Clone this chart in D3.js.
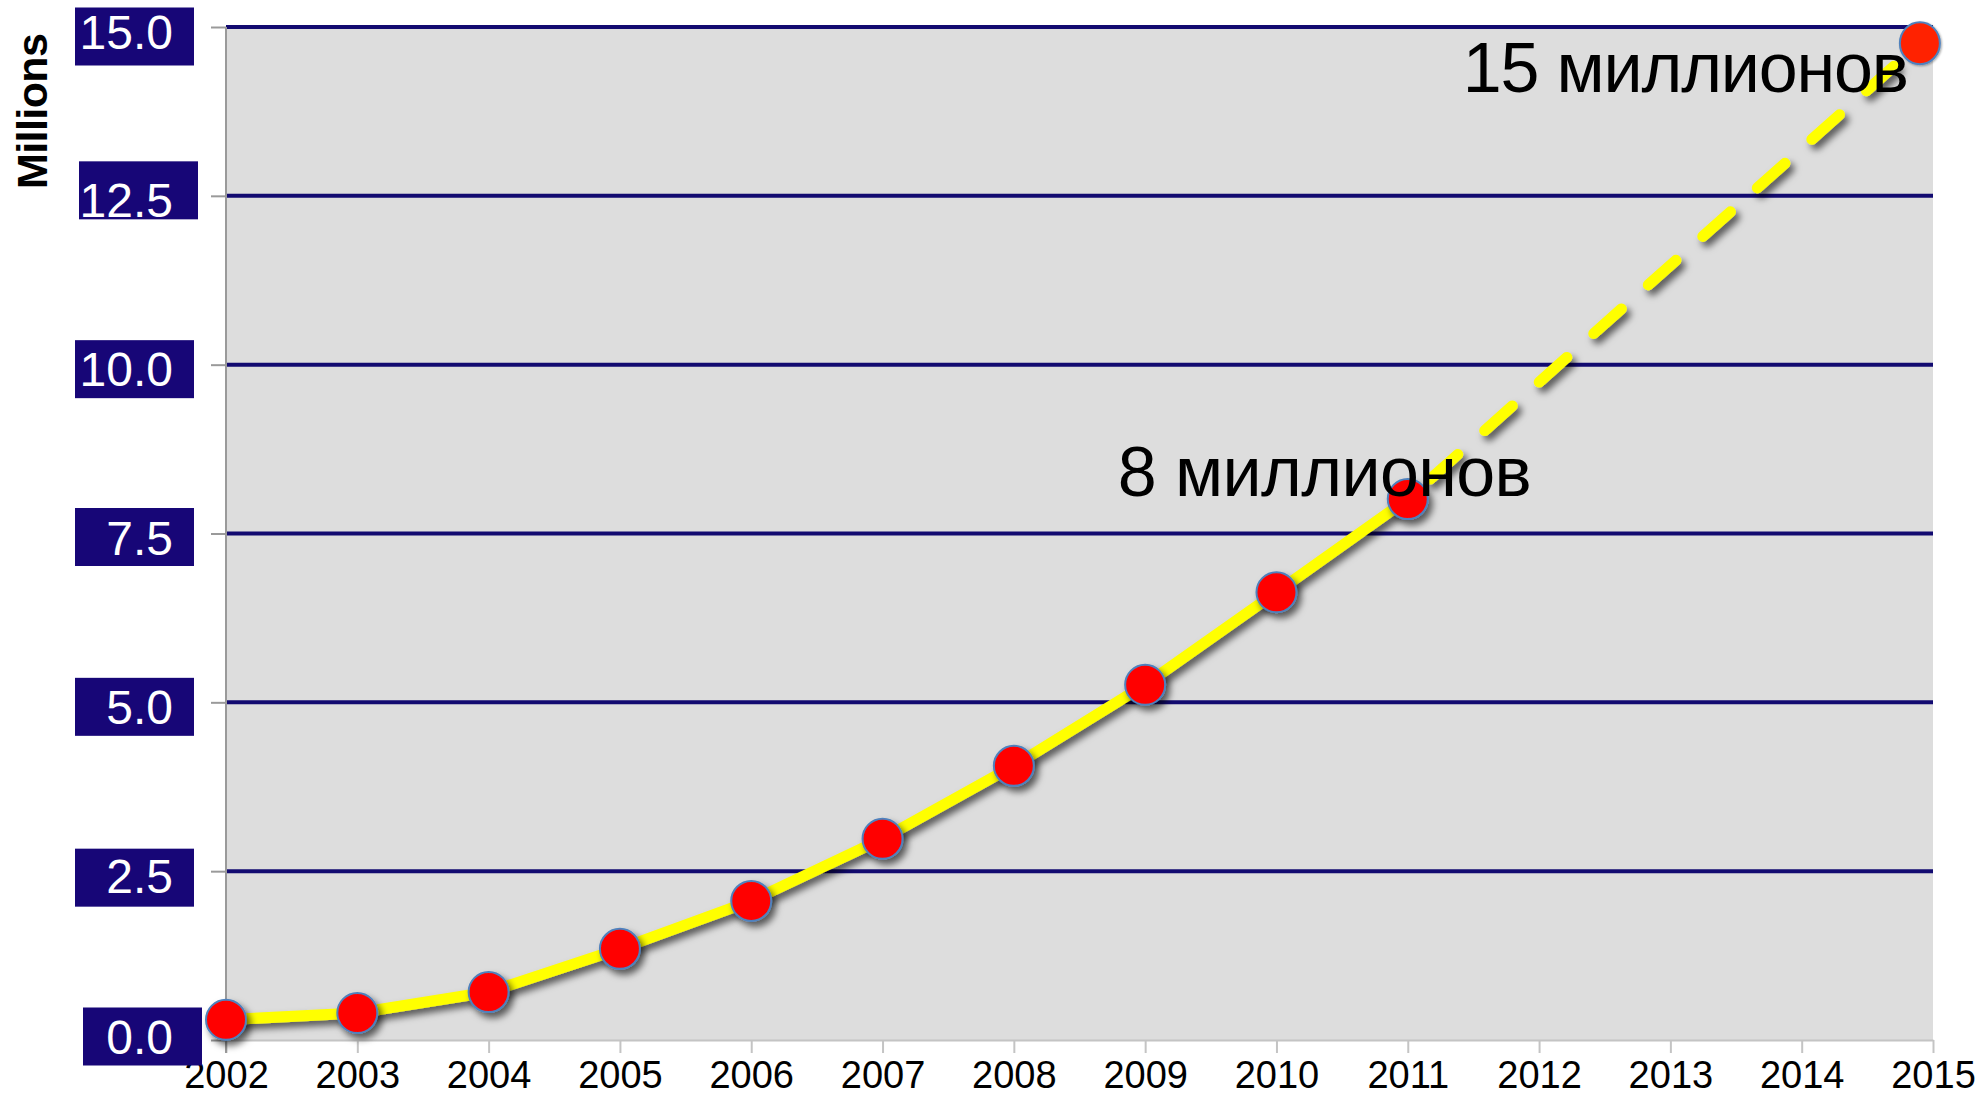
<!DOCTYPE html>
<html>
<head>
<meta charset="utf-8">
<script src="https://cdn.jsdelivr.net/npm/d3@7"></script>
<style>
  body { margin: 0; background: #fff; }
  svg { display: block; font-family: "Liberation Sans", Arial, sans-serif; }
</style>
</head>
<body>
<div id="chart"></div>
<script>
// actual numbers, millions
var years = [2002, 2003, 2004, 2005, 2006, 2007, 2008, 2009, 2010, 2011];
var users = [0.30, 0.40, 0.71, 1.35, 2.06, 2.98, 4.06, 5.26, 6.63, 8.01];
// forecast segment
var forecastYears = [2011, 2014.9];
var forecastUsers = [8.01, 14.76];

var yearTicks = [2002, 2003, 2004, 2005, 2006, 2007, 2008, 2009, 2010, 2011, 2012, 2013, 2014, 2015];
var valueTicks = [0, 2.5, 5, 7.5, 10, 12.5, 15];
var markerYears = [2011, 2015];
var notes = ["8 миллионов", "15 миллионов"];

var width = 1983, height = 1093;
var plotLeft = 226, plotRight = 1933, plotTop = 27, plotBottom = 1040;

var svg = d3.select("#chart").append("svg")
    .attr("width", width)
    .attr("height", height);

var defs = svg.append("defs");
var shadow = defs.append("filter").attr("id", "shadow")
    .attr("x", "-50%").attr("y", "-50%").attr("width", "200%").attr("height", "200%");
shadow.append("feDropShadow")
    .attr("dx", 4).attr("dy", 5).attr("stdDeviation", 3.5)
    .attr("flood-color", "#000").attr("flood-opacity", 0.6);
var softShadow = defs.append("filter").attr("id", "softShadow")
    .attr("x", "-50%").attr("y", "-10%").attr("width", "200%").attr("height", "120%");
softShadow.append("feDropShadow")
    .attr("dx", 1).attr("dy", 1).attr("stdDeviation", 1)
    .attr("flood-color", "#000").attr("flood-opacity", 0.35);

var x = d3.scaleLinear().domain([2002, 2015]).range([plotLeft, plotRight]);
var y = d3.scaleLinear().domain([0, 15]).range([plotBottom, plotTop]);

// plot background
svg.append("rect")
    .attr("x", x(2002)).attr("y", y(15))
    .attr("width", x(2015) - x(2002)).attr("height", y(0) - y(15))
    .attr("fill", "#dddddd");

// grid lines
svg.append("g").selectAll("line")
  .data(valueTicks.filter(function(d) { return d > 0; }))
  .enter().append("line")
    .attr("x1", x(2002)).attr("x2", x(2015))
    .attr("y1", function(d) { return y(d); })
    .attr("y2", function(d) { return y(d); })
    .attr("stroke", "#120a70")
    .attr("stroke-width", 4);

// x axis
var xAxis = svg.append("g")
    .attr("transform", "translate(0," + plotBottom + ")")
    .call(d3.axisBottom(x).tickValues(yearTicks).tickFormat(d3.format("d"))
      .tickSize(13).tickSizeOuter(0).tickPadding(8));
xAxis.select(".domain").attr("stroke", "#c4c4c4").attr("stroke-width", 2);
xAxis.selectAll(".tick line").attr("stroke", "#c4c4c4").attr("stroke-width", 2);
xAxis.selectAll(".tick text")
    .attr("fill", "#000")
    .attr("font-size", 38)
    .attr("font-family", "'Liberation Sans', Arial, sans-serif");

// y axis with boxed labels
var boxNudge = {0: [8, -33], 2.5: [0, -23], 5: [0, -25], 7.5: [0, -26], 10: [0, -25], 12.5: [4, -35], 15: [0, -20]};
var yAxis = svg.append("g")
    .attr("transform", "translate(" + plotLeft + ",0)")
    .call(d3.axisLeft(y).tickValues(valueTicks).tickFormat(d3.format(".1f"))
      .tickSize(15).tickSizeOuter(0).tickPadding(38));
yAxis.select(".domain").attr("stroke", "#9a9a9a").attr("stroke-width", 2)
    .attr("d", "M0," + plotTop + "V" + (plotBottom + 13));
yAxis.selectAll(".tick line").attr("stroke", "#9a9a9a").attr("stroke-width", 2);
yAxis.selectAll(".tick").insert("rect", "text")
    .attr("x", function(d) { return -151 + boxNudge[d][0]; })
    .attr("y", function(d) { return boxNudge[d][1]; })
    .attr("width", 119)
    .attr("height", 58)
    .attr("fill", "#170677");
yAxis.selectAll(".tick text")
    .attr("fill", "#fff")
    .attr("font-size", 48)
    .attr("dy", function(d) { return d === 0 ? "0.29em" : "0.44em"; })
    .attr("font-family", "'Liberation Sans', Arial, sans-serif");

svg.append("text")
    .attr("transform", "translate(47,111) rotate(-90)")
    .attr("text-anchor", "middle")
    .attr("font-size", 43)
    .attr("font-weight", "bold")
    .attr("fill", "#000")
    .attr("textLength", 156)
    .text("Millions");

// green dotted markers
svg.append("g").selectAll("line")
  .data(markerYears)
  .enter().append("line")
    .attr("x1", function(d) { return x(d); })
    .attr("x2", function(d) { return x(d); })
    .attr("y1", y(15))
    .attr("y2", plotBottom + 13)
    .attr("stroke", "#1cf23c")
    .attr("stroke-width", 5)
    .attr("stroke-dasharray", "6,7")
    .attr("filter", "url(#softShadow)");

// lines
var line = d3.line()
    .x(function(d) { return x(d[0]); })
    .y(function(d) { return y(d[1]); });

svg.append("path")
    .datum(d3.zip(years, users))
    .attr("d", line)
    .attr("fill", "none")
    .attr("stroke", "#ffff00")
    .attr("stroke-width", 11)
    .attr("stroke-linejoin", "round")
    .attr("filter", "url(#shadow)");

svg.append("path")
    .datum(d3.zip(forecastYears, forecastUsers))
    .attr("d", line)
    .attr("fill", "none")
    .attr("stroke", "#ffff00")
    .attr("stroke-width", 11)
    .attr("stroke-linecap", "round")
    .attr("stroke-dasharray", "37,36")
    .attr("stroke-dashoffset", -30)
    .attr("filter", "url(#shadow)");

// points
svg.append("g").selectAll("circle")
  .data(d3.zip(years, users))
  .enter().append("circle")
    .attr("cx", function(d) { return x(d[0]); })
    .attr("cy", function(d) { return y(d[1]); })
    .attr("r", 20)
    .attr("fill", "#ff0000")
    .attr("stroke", "#4f81bd")
    .attr("stroke-width", 2)
    .attr("filter", "url(#shadow)");

// notes
svg.append("text")
    .attr("x", x(2011) - 290)
    .attr("y", y(8.01) - 3)
    .attr("font-size", 70)
    .attr("fill", "#000")
    .attr("textLength", 414)
    .text(notes[0]);

svg.append("text")
    .attr("x", x(2014.9) - 457)
    .attr("y", y(14.76) + 49)
    .attr("font-size", 70)
    .attr("fill", "#000")
    .attr("textLength", 446)
    .text(notes[1]);

// forecast point
svg.append("ellipse")
    .attr("cx", x(forecastYears[1]))
    .attr("cy", y(forecastUsers[1]))
    .attr("rx", 20)
    .attr("ry", 21)
    .attr("fill", "#ff2200")
    .attr("stroke", "#4f81bd")
    .attr("stroke-width", 2)
    .attr("filter", "url(#softShadow)");
</script>
</body>
</html>
